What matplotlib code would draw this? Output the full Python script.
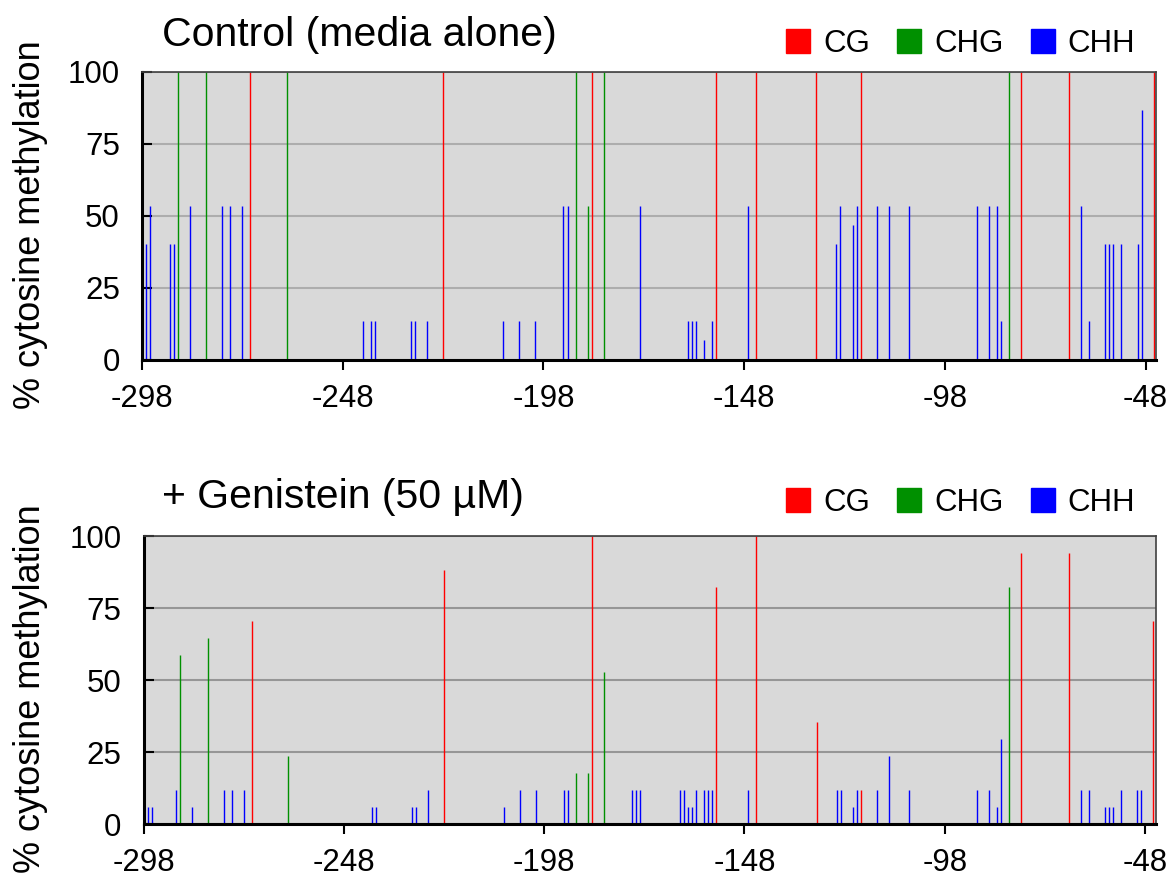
import matplotlib.pyplot as plt
from matplotlib.lines import Line2D

plt.rcParams['font.family'] = ['Liberation Sans', 'DejaVu Sans']
plt.rcParams['axes.unicode_minus'] = False

# Positions relative to TSS and % methylation
# Control (media alone), 15 clones
ctrl_cg_pos = [-271, -223, -186, -155, -145, -130, -119, -79, -67, -46]
ctrl_cg_val = [100, 100, 100, 100, 100, 100, 100, 100, 100, 100]
ctrl_chg_pos = [-289, -282, -262, -190, -187, -183, -82]
ctrl_chg_val = [100, 100, 100, 100, 53.3, 100, 100]
ctrl_chh_pos = [-297, -296, -291, -290, -286, -278, -276, -273, -243, -241,
                -240, -231, -230, -227, -208, -204, -200, -193, -192, -174,
                -162, -161, -160, -158, -156, -147, -125, -124, -121, -120,
                -115, -112, -107, -90, -87, -85, -84, -64, -62, -58,
                -57, -56, -54, -50, -49]
ctrl_chh_val = [40, 53.3, 40, 40, 53.3, 53.3, 53.3, 53.3, 13.3, 13.3,
                13.3, 13.3, 13.3, 13.3, 13.3, 13.3, 13.3, 53.3, 53.3, 53.3,
                13.3, 13.3, 13.3, 6.7, 13.3, 53.3, 40, 53.3, 46.7, 53.3,
                53.3, 53.3, 53.3, 53.3, 53.3, 53.3, 13.3, 53.3, 13.3, 40,
                40, 40, 40, 40, 86.7]

# + Genistein (50 uM), 17 clones
gen_cg_pos = [-271, -223, -186, -155, -145, -130, -119, -79, -67, -46]
gen_cg_val = [70.6, 88.2, 100, 82.4, 100, 35.3, 11.8, 94.1, 94.1, 70.6]
gen_chg_pos = [-289, -282, -262, -190, -187, -183, -82]
gen_chg_val = [58.8, 64.7, 23.5, 17.6, 17.6, 52.9, 82.4]
gen_chh_pos = [-297, -296, -290, -286, -278, -276, -273, -241, -240, -231,
               -230, -227, -208, -204, -200, -193, -192, -176, -175, -174,
               -164, -163, -162, -161, -160, -158, -157, -156, -147, -125,
               -124, -121, -120, -115, -112, -107, -90, -87, -85, -84,
               -64, -62, -58, -57, -56, -54, -50, -49]
gen_chh_val = [5.9, 5.9, 11.8, 5.9, 11.8, 11.8, 11.8, 5.9, 5.9, 5.9,
               5.9, 11.8, 5.9, 11.8, 11.8, 11.8, 11.8, 11.8, 11.8, 11.8,
               11.8, 11.8, 5.9, 5.9, 11.8, 11.8, 11.8, 11.8, 11.8, 11.8,
               11.8, 5.9, 11.8, 11.8, 23.5, 11.8, 11.8, 11.8, 5.9, 29.4,
               11.8, 11.8, 5.9, 5.9, 5.9, 11.8, 11.8, 11.8]

x_ticks = [-298, -248, -198, -148, -98, -48]
y_ticks = [0, 25, 50, 75, 100]
labels = ['CG', 'CHG', 'CHH']
colors = ['#ff0000', '#009000', '#0000ff']

W, H = 1175, 880
fig = plt.figure(figsize=(W / 100, H / 100), dpi=100)


def panel(rect, title, title_y, leg_y, grid_color, series):
    ax = fig.add_axes(rect)
    ax.set_facecolor('#d9d9d9')
    for (pos, val), c in zip(series, colors):
        ax.vlines(pos, 0, val, colors=c, lw=1.0)
    ax.set_xlim(-298, -45.4)
    ax.set_ylim(0, 100)
    ax.set_xticks(x_ticks)
    ax.set_yticks(y_ticks)
    ax.yaxis.grid(True, color=grid_color, lw=1.5)
    ax.set_axisbelow(True)
    ax.tick_params(axis='y', direction='in', length=7.2, width=1.5,
                   labelsize=22.5, pad=16)
    ax.tick_params(axis='x', direction='out', length=7.2, width=1.5,
                   labelsize=22.5, pad=10)
    for s in ['left', 'bottom']:
        ax.spines[s].set_linewidth(2.2)
        ax.spines[s].set_color('black')
    for s in ['top', 'right']:
        ax.spines[s].set_linewidth(1.2)
        ax.spines[s].set_color('#404040')
    fig.text(162 / W, title_y, title, fontsize=29.5, va='center', ha='left')
    fig.text(31 / W, rect[1] + rect[3] * 0.47, '% cytosine methylation',
             rotation=90, fontsize=26, ha='center', va='center')
    handles = [Line2D([], [], marker='s', ls='none', color=c, markersize=17.5)
               for c in colors]
    ax.legend(handles, labels, loc='center', bbox_to_anchor=(959 / W, leg_y),
              bbox_transform=fig.transFigure, ncol=3, frameon=False,
              fontsize=22.5, handlelength=1.0, handletextpad=0.3,
              columnspacing=0.75)
    return ax


panel([142 / W, 1 - 359.7 / H, 1014 / W, 288 / H], 'Control (media alone)',
      1 - 35 / H, 1 - 44 / H, '#adadad',
      [(ctrl_cg_pos, ctrl_cg_val), (ctrl_chg_pos, ctrl_chg_val),
       (ctrl_chh_pos, ctrl_chh_val)])
panel([143.5 / W, 1 - 824 / H, 1012 / W, 288 / H], '+ Genistein (50 µM)',
      1 - 497 / H, 1 - 503 / H, '#969696',
      [(gen_cg_pos, gen_cg_val), (gen_chg_pos, gen_chg_val),
       (gen_chh_pos, gen_chh_val)])

fig.savefig('out.png', dpi=100)
